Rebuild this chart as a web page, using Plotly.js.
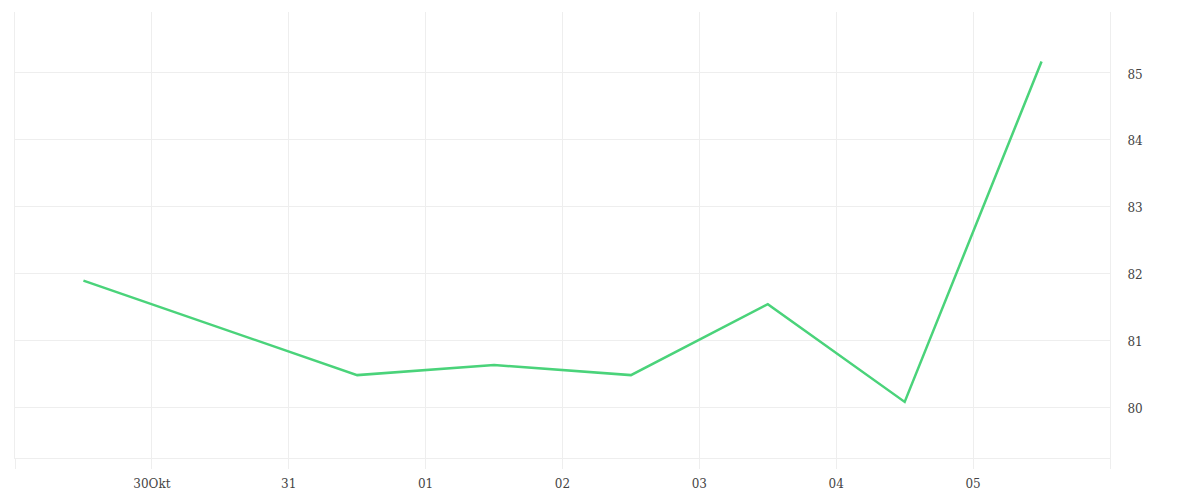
<!DOCTYPE html>
<html>
<head>
<meta charset="utf-8">
<script src="https://cdn.plot.ly/plotly-3.0.1.min.js"></script>
<style>html,body{margin:0;padding:0;background:#fff;}#chart{width:1200px;height:500px;}</style>
</head>
<body>
<div id="chart"></div>
<script>
var dates = ["2023-10-29 12:00", "2023-10-31 12:00", "2023-11-01 12:00", "2023-11-02 12:00", "2023-11-03 12:00", "2023-11-04 12:00", "2023-11-05 12:00"];
var values = [81.89, 80.48, 80.63, 80.48, 81.54, 80.08, 85.16];
var tickDates = ["2023-10-29", "2023-10-30", "2023-10-31", "2023-11-01", "2023-11-02", "2023-11-03", "2023-11-04", "2023-11-05", "2023-11-06"];
var tickLabels = ["", "30Okt", "31", "01", "02", "03", "04", "05", ""];
var yTicks = [80, 81, 82, 83, 84, 85];

var fontFam = "'DejaVu Serif', 'Liberation Serif', serif";
var trace = {
  x: dates, y: values, type: 'scatter', mode: 'lines',
  line: {color: '#4ad37a', width: 2.5},
  hoverinfo: 'x+y'
};
var layout = {
  width: 1200, height: 500,
  margin: {l: 15, r: 90, t: 12, b: 42},
  paper_bgcolor: '#fff', plot_bgcolor: '#fff',
  showlegend: false,
  font: {family: fontFam, size: 12, color: '#444'},
  xaxis: {
    type: 'date',
    range: ["2023-10-29", "2023-11-06"],
    tickmode: 'array', tickvals: tickDates, ticktext: tickLabels,
    showgrid: true, gridcolor: '#eeeeee', gridwidth: 1,
    ticks: 'outside', ticklen: 10, tickcolor: '#eeeeee', tickwidth: 1,
    ticklabelstandoff: 5,
    showline: true, linecolor: '#eeeeee', linewidth: 1,
    zeroline: false,
    tickfont: {family: fontFam, size: 12, color: '#444'}
  },
  yaxis: {
    side: 'right',
    range: [79.243, 85.9],
    tickmode: 'array', tickvals: yTicks,
    showgrid: true, gridcolor: '#eeeeee', gridwidth: 1,
    ticks: 'outside', ticklen: 14, tickcolor: 'rgba(0,0,0,0)',
    ticklabelshift: 2,
    showline: true, mirror: true, linecolor: '#eeeeee', linewidth: 1,
    zeroline: false,
    tickfont: {family: fontFam, size: 12, color: '#444'}
  }
};
Plotly.newPlot('chart', [trace], layout, {displayModeBar: false, staticPlot: true});
</script>
</body>
</html>
